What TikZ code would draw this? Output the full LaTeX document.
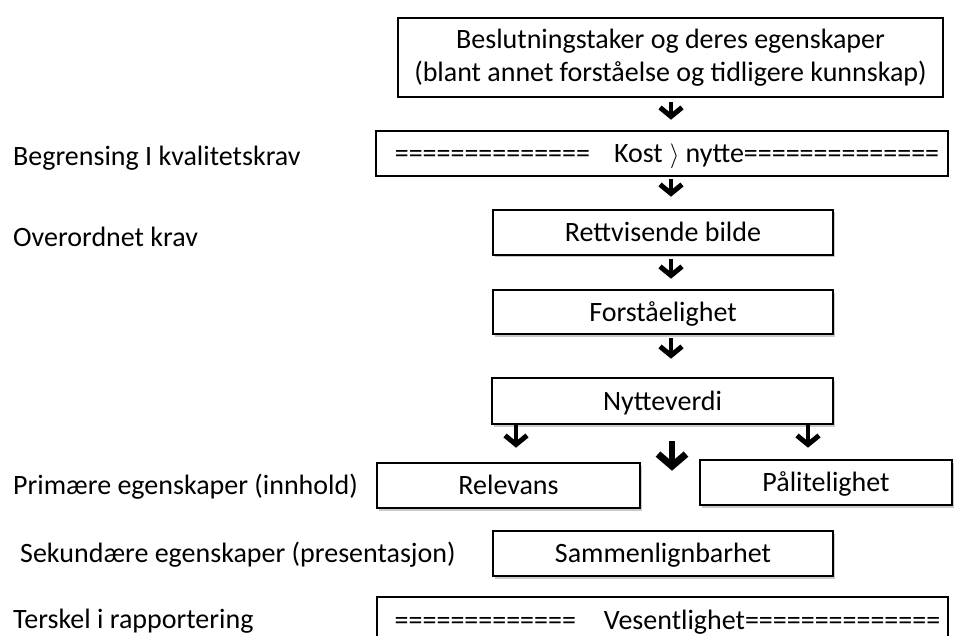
\documentclass[tikz,border=0pt]{standalone}
\usepackage{fontspec}
\setmainfont{Carlito}
\usetikzlibrary{arrows.meta,shadows}
\newcommand{\eqseven}{=======}
\begin{document}
\begin{tikzpicture}[x=1pt,y=-1pt,
  box/.style={draw=black,line width=2.6pt,fill=white,inner sep=0pt,align=center,font=\fontsize{28}{33}\selectfont},
  tbox/.style={box,text height=20pt,text depth=2pt},
  sbox/.style={tbox,drop shadow={shadow xshift=2pt,shadow yshift=-2.5pt,fill=black!35,opacity=0.6}},
  lbl/.style={anchor=west,inner sep=0pt,font=\fontsize{28}{33}\selectfont},
  arr/.style={line width=4.2pt,-{Straight Barb[length=9pt,width=22pt,line width=5pt]}},
  bigarr/.style={line width=6.5pt,-{Straight Barb[length=12pt,width=28pt,line width=7pt]}}
]
\useasboundingbox (0,0) rectangle (955,636);
% boxes
\node[box,minimum width=545,minimum height=79] (top) at (670.5,57.5)
  {Beslutningstaker og deres egenskaper\\(blant annet forståelse og tidligere kunnskap)};
\node[tbox,minimum width=572,minimum height=45] (kost) at (662,153.5)
  {\hspace*{10pt}\eqseven\eqseven\hspace{24pt}Kost\hspace{7pt}$\rangle$\hspace{6pt}nytte\eqseven\eqseven};
\node[sbox,minimum width=340,minimum height=45] (rett) at (663,232.5) {Rettvisende bilde};
\node[sbox,minimum width=340,minimum height=44] (forst) at (663,312) {Forståelighet};
\node[sbox,minimum width=341,minimum height=46] (nytte) at (662.5,401) {Nytteverdi};
\node[sbox,minimum width=263,minimum height=45] (rel) at (508.5,485.5) {Relevans};
\node[sbox,minimum width=252,minimum height=45] (pal) at (826,482.5) {Pålitelighet};
\node[sbox,minimum width=340,minimum height=45] (sam) at (663,553.5) {Sammenlignbarhet};
\node[tbox,minimum width=571,minimum height=46] (ves) at (662.5,620)
  {\hspace*{10pt}\eqseven======\hspace{28pt}Vesentlighet\eqseven\eqseven};
% left labels
\node[lbl] (l1) at (13,158) {Begrensing I kvalitetskrav};
\node[lbl] (l2) at (13,237) {Overordnet krav};
\node[lbl] (l3) at (13,487) {Primære egenskaper (innhold)};
\node[lbl] (l4) at (20,555) {Sekundære egenskaper (presentasjon)};
\node[lbl] (l5) at (13,621) {Terskel i rapportering};
% arrow columns
\coordinate (cx) at (671,0);
\coordinate (lx) at (516,0);
\coordinate (rx) at (808,0);
\coordinate (mx) at (672,0);
\draw[arr,shorten <=4pt,shorten >=10pt] (top.south -| cx) -- (kost.north -| cx);
\draw[arr,shorten <=2pt,shorten >=12pt] (kost.south -| cx) -- (rett.north -| cx);
\draw[arr,shorten <=3pt,shorten >=10pt] (rett.south -| cx) -- (forst.north -| cx);
\draw[arr,shorten <=3pt,shorten >=18pt] (forst.south -| cx) -- (nytte.north -| cx);
\draw[arr,shorten >=14pt] (nytte.south -| lx) -- (rel.north -| lx);
\draw[arr,shorten >=11pt] (nytte.south -| rx) -- (pal.north -| rx);
\draw[bigarr,shorten <=16pt,shorten >=59pt] (nytte.south -| mx) -- (sam.north -| mx);
\end{tikzpicture}
\end{document}
